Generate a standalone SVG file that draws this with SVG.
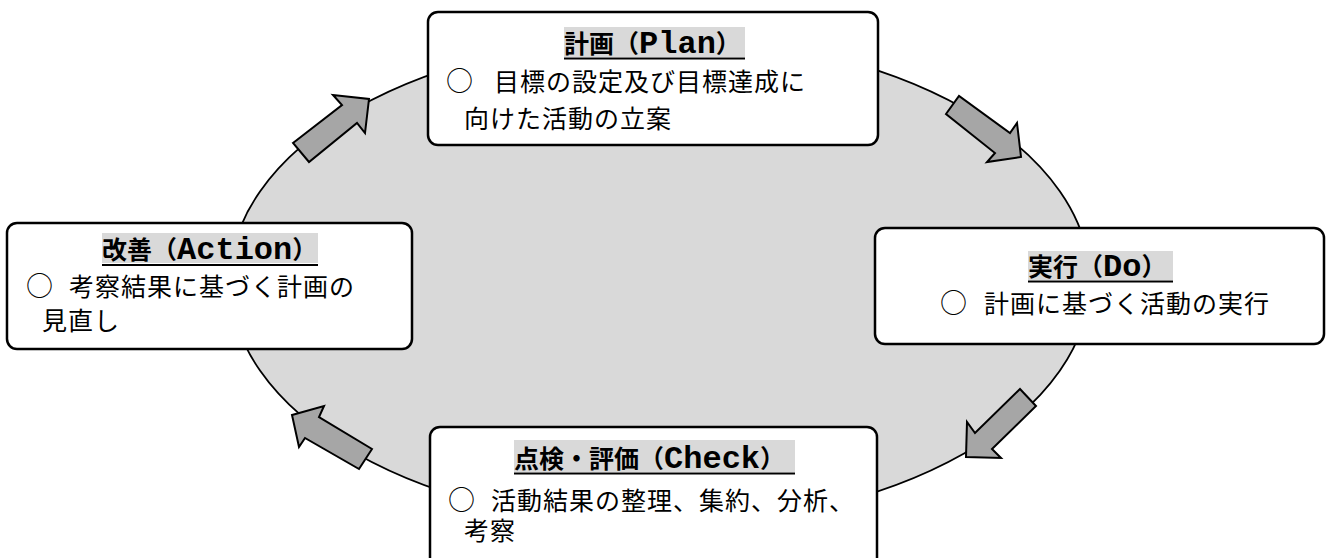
<svg xmlns="http://www.w3.org/2000/svg" width="1326" height="558" viewBox="0 0 1326 558">
<style>
.box{fill:#fff;stroke:#000;stroke-width:2.5}
.arr{fill:#a6a6a6;stroke:#000;stroke-width:2;stroke-linejoin:miter}
.hl{fill:#d9d9d9}
.ul{stroke:#000;stroke-width:2}
.t{font-family:"Noto Sans CJK JP","Noto Sans CJK SC",sans-serif;font-size:25px;font-weight:bold;fill:#000}
.lat{font-family:"Liberation Mono",monospace;font-size:32px;font-weight:bold}
.b{font-family:"Noto Sans CJK JP","Noto Sans CJK SC",sans-serif;font-size:25px;letter-spacing:1px;fill:#000}
.c{font-family:"Noto Sans CJK JP","Noto Sans CJK SC",sans-serif;font-size:27px;fill:#000}
</style>
<ellipse cx="660" cy="281" rx="430" ry="244" fill="#d9d9d9" stroke="#000" stroke-width="1.8"/>
<g id="connectors">
<polygon class="arr" points="293,143 342,105 333,95 369,99 365,133 357,123 309,162"/>
<polygon class="arr" points="946,114 959,96 1010,133 1017,123 1021,157 987,162 995,153"/>
<polygon class="arr" points="1020,389 1036,406 992,449 1001,458 966,457 967,422 975,433"/>
<polygon class="arr" points="372,449 359,469 305,438 299,447 292,415 324,406 319,417"/>
</g>
<g id="plan">
<rect class="box" x="428" y="12" width="450" height="133" rx="10"/>
<rect class="hl" x="564" y="27" width="181" height="30"/>
<line class="ul" x1="564" y1="58.5" x2="745" y2="58.5"/>
<text class="t" x="564" y="53">計画（<tspan class="lat">Plan</tspan>）</text>
<text class="c" x="446" y="91">○</text>
<text class="b" x="494" y="91">目標の設定及び目標達成に</text>
<text class="b" x="464" y="128">向けた活動の立案</text>
</g>
<g id="do">
<rect class="box" x="875" y="228" width="449" height="116" rx="10"/>
<rect class="hl" x="1028" y="251" width="145" height="29"/>
<line class="ul" x1="1028" y1="281.5" x2="1173" y2="281.5"/>
<text class="t" x="1028" y="276">実行（<tspan class="lat">Do</tspan>）</text>
<text class="c" x="940" y="313">○</text>
<text class="b" x="984" y="313">計画に基づく活動の実行</text>
</g>
<g id="check">
<rect class="box" x="430" y="427" width="447" height="150" rx="10"/>
<rect class="hl" x="514" y="440" width="281" height="32"/>
<line class="ul" x1="514" y1="473.5" x2="795" y2="473.5"/>
<text class="t" x="514" y="468">点検・評価（<tspan class="lat">Check</tspan>）</text>
<text class="c" x="448" y="510">○</text>
<text class="b" x="491" y="510">活動結果の整理、集約、分析、</text>
<text class="b" x="464" y="540">考察</text>
</g>
<g id="action">
<rect class="box" x="7" y="223" width="405" height="126" rx="10"/>
<rect class="hl" x="102" y="233" width="216" height="30"/>
<line class="ul" x1="102" y1="265" x2="318" y2="265"/>
<text class="t" x="102" y="259">改善（<tspan class="lat">Action</tspan>）</text>
<text class="c" x="26" y="296">○</text>
<text class="b" x="69" y="296">考察結果に基づく計画の</text>
<text class="b" x="42" y="330">見直し</text>
</g>
</svg>
